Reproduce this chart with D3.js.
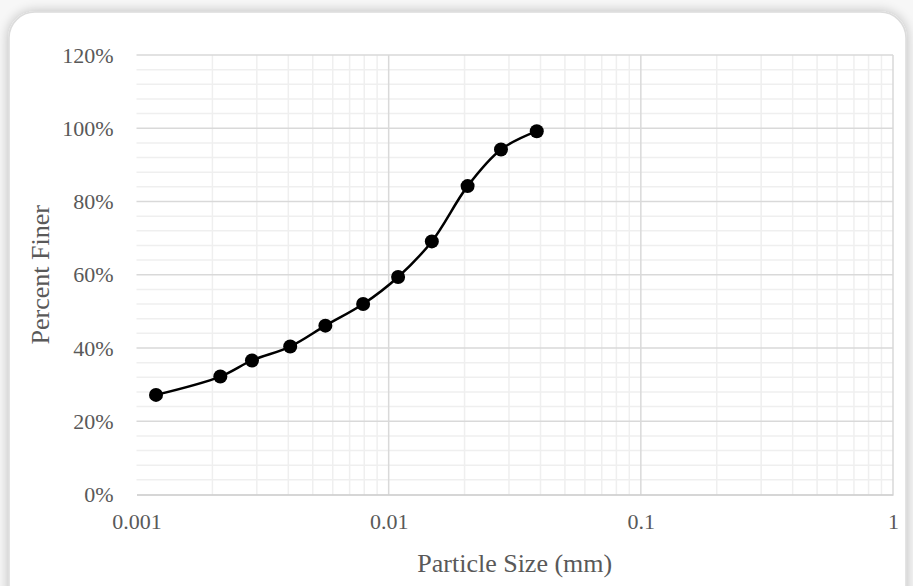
<!DOCTYPE html>
<html>
<head>
<meta charset="utf-8">
<script src="https://cdn.jsdelivr.net/npm/d3@7"></script>
<style>
  html, body { margin: 0; padding: 0; background: #ffffff; }
  svg { display: block; }
</style>
</head>
<body>
<svg id="chart"></svg>
<script>
// particle size (mm) and percent finer
const sizes = [0.001195, 0.00215, 0.00287, 0.00407, 0.00561, 0.00792, 0.0109, 0.01483, 0.02056, 0.02789, 0.03866];
const finer = [27.2, 32.2, 36.6, 40.4, 46.1, 52.0, 59.4, 69.1, 84.2, 94.2, 99.2];
const xTicks = [0.001, 0.01, 0.1, 1];
const yTicks = [0, 20, 40, 60, 80, 100, 120];

const W = 913, H = 586;
const margin = { top: 55, right: 20, bottom: 91.5, left: 136.5 };
const width = W - margin.left - margin.right;
const height = H - margin.top - margin.bottom;
const font = "'Liberation Serif', 'Times New Roman', serif";
const textColor = "#595959";

const svg = d3.select("#chart").attr("width", W).attr("height", H);

// card with soft shadow
const defs = svg.append("defs");
const f = defs.append("filter").attr("id", "shadow")
    .attr("x", "-10%").attr("y", "-10%").attr("width", "120%").attr("height", "120%");
f.append("feGaussianBlur").attr("in", "SourceAlpha").attr("stdDeviation", 6);
f.append("feOffset").attr("dx", 0).attr("dy", 0).attr("result", "blur");
f.append("feComponentTransfer").append("feFuncA").attr("type", "linear").attr("slope", 0.25);
const merge = f.append("feMerge");
merge.append("feMergeNode");
merge.append("feMergeNode").attr("in", "SourceGraphic");

svg.append("rect").attr("width", W).attr("height", H).attr("fill", "#f7f7f7");
svg.append("rect")
    .attr("x", 9).attr("y", 12)
    .attr("width", 897).attr("height", H + 20)
    .attr("rx", 26).attr("ry", 26)
    .attr("fill", "#ffffff")
    .attr("stroke", "#dcdcdc")
    .attr("stroke-width", 1.5)
    .attr("filter", "url(#shadow)");

const g = svg.append("g")
    .attr("transform", "translate(" + margin.left + "," + margin.top + ")");

const x = d3.scaleLog().domain([0.001, 1]).range([0, width]);
const y = d3.scaleLinear().domain([0, 120]).range([height, 0]);

// minor grid
const minorX = [];
for (let d = 0.001; d < 1; d *= 10) {
    for (let k = 2; k <= 9; k++) minorX.push(d * k);
}
const minorY = d3.range(0, 121, 4).filter(v => v % 20 !== 0);

g.append("g").selectAll("line").data(minorY).join("line")
    .attr("x1", 0).attr("x2", width)
    .attr("y1", d => y(d)).attr("y2", d => y(d))
    .attr("stroke", "#efefef").attr("stroke-width", 1.5);

g.append("g").selectAll("line").data(minorX).join("line")
    .attr("x1", d => x(d)).attr("x2", d => x(d))
    .attr("y1", 0).attr("y2", height)
    .attr("stroke", "#efefef").attr("stroke-width", 1.5);

// major grid
g.append("g").selectAll("line").data(yTicks.slice(1)).join("line")
    .attr("x1", 0).attr("x2", width)
    .attr("y1", d => y(d)).attr("y2", d => y(d))
    .attr("stroke", "#d9d9d9").attr("stroke-width", 1.5);

g.append("g").selectAll("line").data(xTicks.slice(1)).join("line")
    .attr("x1", d => x(d)).attr("x2", d => x(d))
    .attr("y1", 0).attr("y2", height)
    .attr("stroke", "#d9d9d9").attr("stroke-width", 1.5);

// x axis
const xAxis = g.append("g")
    .attr("transform", "translate(0," + height + ")")
    .call(d3.axisBottom(x).tickValues(xTicks).tickFormat(d => String(d)).tickSize(0).tickPadding(34));
xAxis.select(".domain").attr("stroke", "#c8c8c8").attr("stroke-width", 1.5);
xAxis.selectAll("text")
    .attr("font-family", font).attr("font-size", 22).attr("fill", textColor)
    .attr("dy", "0");

// y axis
const yAxis = g.append("g")
    .call(d3.axisLeft(y).tickValues(yTicks).tickFormat(d => d + "%").tickSize(0).tickPadding(23));
yAxis.select(".domain").remove();
yAxis.selectAll("text")
    .attr("font-family", font).attr("font-size", 22).attr("fill", textColor);

// axis titles
g.append("text")
    .attr("x", width / 2).attr("y", height + 77)
    .attr("text-anchor", "middle")
    .attr("font-family", font).attr("font-size", 26).attr("fill", textColor)
    .text("Particle Size (mm)");

g.append("text")
    .attr("transform", "rotate(-90)")
    .attr("x", -height / 2).attr("y", -88)
    .attr("text-anchor", "middle")
    .attr("font-family", font).attr("font-size", 26).attr("fill", textColor)
    .text("Percent Finer");

// data
const data = sizes.map((s, i) => ({ size: s, pct: finer[i] }));

const line = d3.line()
    .x(d => x(d.size))
    .y(d => y(d.pct))
    .curve(d3.curveCatmullRom.alpha(0.5));

g.append("path")
    .datum(data)
    .attr("fill", "none")
    .attr("stroke", "#000")
    .attr("stroke-width", 2.5)
    .attr("stroke-linejoin", "round")
    .attr("d", line);

g.append("g").selectAll("circle").data(data).join("circle")
    .attr("cx", d => x(d.size))
    .attr("cy", d => y(d.pct))
    .attr("r", 7)
    .attr("fill", "#000");
</script>
</body>
</html>
